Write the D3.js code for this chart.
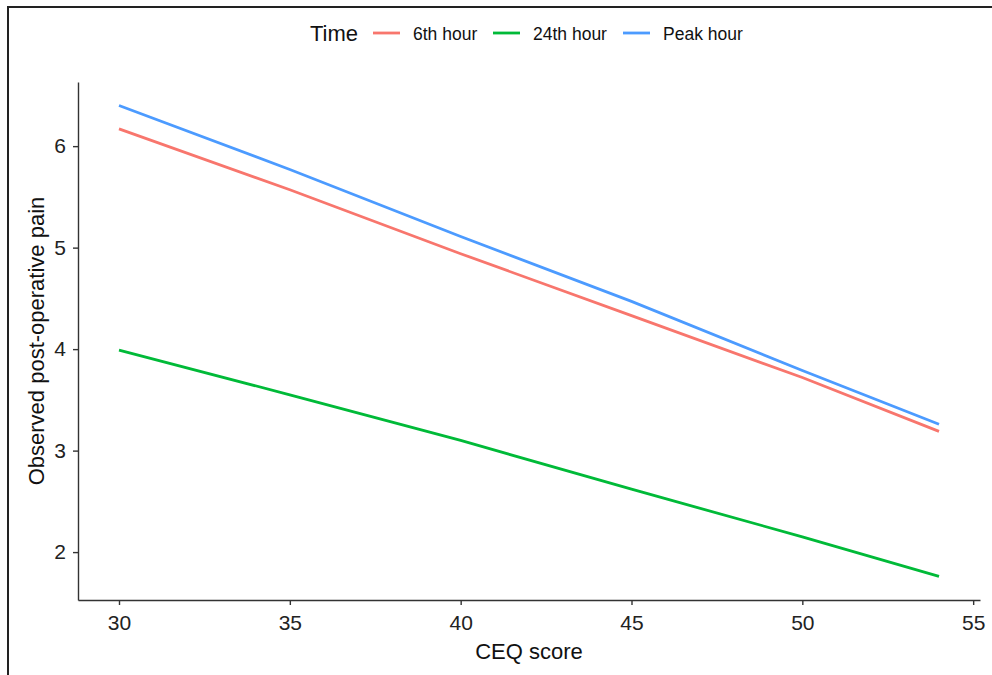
<!DOCTYPE html>
<html>
<head>
<meta charset="utf-8">
<script src="https://cdn.jsdelivr.net/npm/d3@7"></script>
<style>
  body { margin: 0; background: #fff; }
  svg { display: block; font-family: "Liberation Sans", Arial, sans-serif; }
  .axis path, .axis line { stroke: #333; stroke-width: 1.4; }
  .axis text { fill: #222; font-size: 21px; }
</style>
</head>
<body>
<svg width="992" height="675"></svg>
<script>
// CEQ score values at which each line was read
var ceq = [30, 35, 40, 45, 50, 54];
var series = ["6th hour", "24th hour", "Peak hour"];
var sixth = [6.17, 5.57, 4.94, 4.33, 3.72, 3.19];
var twentyFourth = [3.99, 3.55, 3.10, 2.62, 2.15, 1.76];
var peak = [6.40, 5.77, 5.11, 4.47, 3.79, 3.26];
var xTicks = [30, 35, 40, 45, 50, 55];
var yTicks = [2, 3, 4, 5, 6];
var colors = ["#F8766D", "#00BA38", "#4C9BFF"];

var svg = d3.select("svg");

// outer frame
svg.append("rect")
  .attr("x", 8).attr("y", 7)
  .attr("width", 1100).attr("height", 800)
  .attr("fill", "none")
  .attr("stroke", "#222")
  .attr("stroke-width", 2);

var margin = {top: 82, left: 78, right: 980, bottom: 600};

var x = d3.scaleLinear()
  .domain([28.8, 55.2])
  .range([margin.left, margin.right]);

var y = d3.scaleLinear()
  .domain([1.528, 6.632])
  .range([margin.bottom, margin.top]);

svg.append("g")
  .attr("class", "axis")
  .attr("transform", "translate(0," + margin.bottom + ")")
  .call(d3.axisBottom(x).tickValues(xTicks).tickFormat(d3.format("d")).tickSize(5).tickPadding(6).tickSizeOuter(0))
  .call(function(g) { g.selectAll("text").attr("dy", "0.9em"); });

svg.append("g")
  .attr("class", "axis")
  .attr("transform", "translate(" + margin.left + ",0)")
  .call(d3.axisLeft(y).tickValues(yTicks).tickFormat(d3.format("d")).tickSize(5).tickPadding(7).tickSizeOuter(0));

var line = d3.line()
  .x(function(d) { return x(d[0]); })
  .y(function(d) { return y(d[1]); });

[sixth, twentyFourth, peak].forEach(function(vals, i) {
  svg.append("path")
    .datum(ceq.map(function(c, j) { return [c, vals[j]]; }))
    .attr("fill", "none")
    .attr("stroke", colors[i])
    .attr("stroke-width", 2.8)
    .attr("d", line);
});

// axis titles
svg.append("text")
  .attr("x", (margin.left + margin.right) / 2)
  .attr("y", 659)
  .attr("text-anchor", "middle")
  .attr("font-size", 22)
  .attr("fill", "#111")
  .text("CEQ score");

svg.append("text")
  .attr("transform", "translate(44," + ((margin.top + margin.bottom) / 2) + ") rotate(-90)")
  .attr("text-anchor", "middle")
  .attr("font-size", 22)
  .attr("fill", "#111")
  .text("Observed post-operative pain");

// legend
var legend = svg.append("g");
legend.append("text")
  .attr("x", 310).attr("y", 41)
  .attr("font-size", 22)
  .attr("fill", "#111")
  .text("Time");

var keyX = [373, 493, 623];
series.forEach(function(s, i) {
  legend.append("line")
    .attr("x1", keyX[i]).attr("x2", keyX[i] + 27)
    .attr("y1", 33).attr("y2", 33)
    .attr("stroke", colors[i])
    .attr("stroke-width", 2.8);
  legend.append("text")
    .attr("x", keyX[i] + 40).attr("y", 40)
    .attr("font-size", 17.5)
    .attr("fill", "#111")
    .text(s);
});
</script>
</body>
</html>
